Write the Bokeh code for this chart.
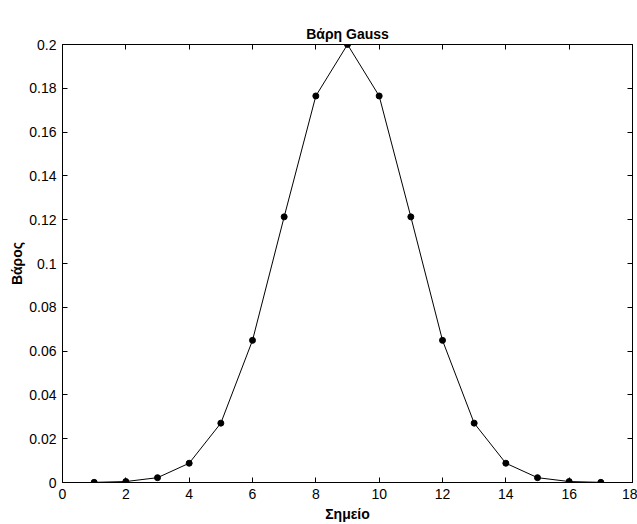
from bokeh.plotting import figure
from bokeh.models import Range1d, LinearAxis, FixedTicker, CustomJSTickFormatter, CustomLabelingPolicy
from bokeh.embed import file_html
from bokeh.resources import INLINE

points = [1, 2, 3, 4, 5, 6, 7, 8, 9, 10, 11, 12, 13, 14, 15, 16, 17]
weights = [0.00007, 0.00044, 0.0022, 0.0088, 0.0271, 0.0649, 0.1213, 0.1765, 0.2,
           0.1765, 0.1213, 0.0649, 0.0271, 0.0088, 0.0022, 0.00044, 0.00007]
x_ticks = [0, 2, 4, 6, 8, 10, 12, 14, 16, 18]
y_ticks = [0, 0.02, 0.04, 0.06, 0.08, 0.1, 0.12, 0.14, 0.16, 0.18, 0.2]
title_text = "Βάρη Gauss"
x_label = "Σημείο"
y_label = "Βάρος"

FONT = "Liberation Sans"

p = figure(width=637, height=524, output_backend="svg", toolbar_location=None,
           x_range=Range1d(0, 18), y_range=Range1d(0, 0.2),
           title=title_text, x_axis_label=x_label, y_axis_label=y_label,
           min_border_left=62, min_border_right=5, min_border_top=44, min_border_bottom=42)

p.background_fill_color = "white"
p.border_fill_color = "white"
p.grid.visible = False
p.outline_line_color = "black"
p.outline_line_width = 1

p.title.align = "center"
p.title.text_font = FONT
p.title.text_font_size = "14px"
p.title.text_font_style = "bold"
p.title.text_color = "black"
p.title.offset = 0
p.title.standoff = 5

fmt = CustomJSTickFormatter(code="return String(parseFloat(tick.toFixed(2)));")

for ax in [p.xaxis[0], p.yaxis[0]]:
    ax.major_tick_in = 5
    ax.major_tick_out = 0
    ax.minor_tick_line_color = None
    ax.axis_line_color = "black"
    ax.major_tick_line_color = "black"
    ax.major_label_text_font = FONT
    ax.major_label_text_font_size = "14px"
    ax.major_label_text_color = "black"
    ax.axis_label_text_font = FONT
    ax.axis_label_text_font_size = "14px"
    ax.axis_label_text_font_style = "bold"
    ax.axis_label_text_color = "black"

p.xaxis[0].ticker = FixedTicker(ticks=x_ticks)
p.yaxis[0].ticker = FixedTicker(ticks=y_ticks)
p.xaxis[0].formatter = fmt
p.yaxis[0].formatter = fmt
p.xaxis[0].major_label_standoff = 6
p.yaxis[0].major_label_standoff = 6
p.xaxis[0].axis_label_standoff = 4
p.yaxis[0].axis_label_standoff = 1

no_labels = CustomLabelingPolicy(code="""
const idx = Array.from(indices);
for (const i of idx) indices.unset(i);
return indices;
""")
empty_fmt = CustomJSTickFormatter(code="return '';")

top = LinearAxis(ticker=FixedTicker(ticks=x_ticks), major_label_policy=no_labels,
                 formatter=empty_fmt,
                 major_tick_in=5, major_tick_out=0, minor_tick_line_color=None,
                 axis_line_color="black", major_label_standoff=0)
right = LinearAxis(ticker=FixedTicker(ticks=y_ticks), major_label_policy=no_labels,
                   formatter=empty_fmt,
                   major_tick_in=5, major_tick_out=0, minor_tick_line_color=None,
                   axis_line_color="black", major_label_standoff=0)
p.add_layout(top, "above")
p.add_layout(right, "right")

p.line(points, weights, line_color="black", line_width=1)
p.scatter(points, weights, size=6, fill_color="black", line_color="black")

open("out.html", "w").write(file_html(p, INLINE))
